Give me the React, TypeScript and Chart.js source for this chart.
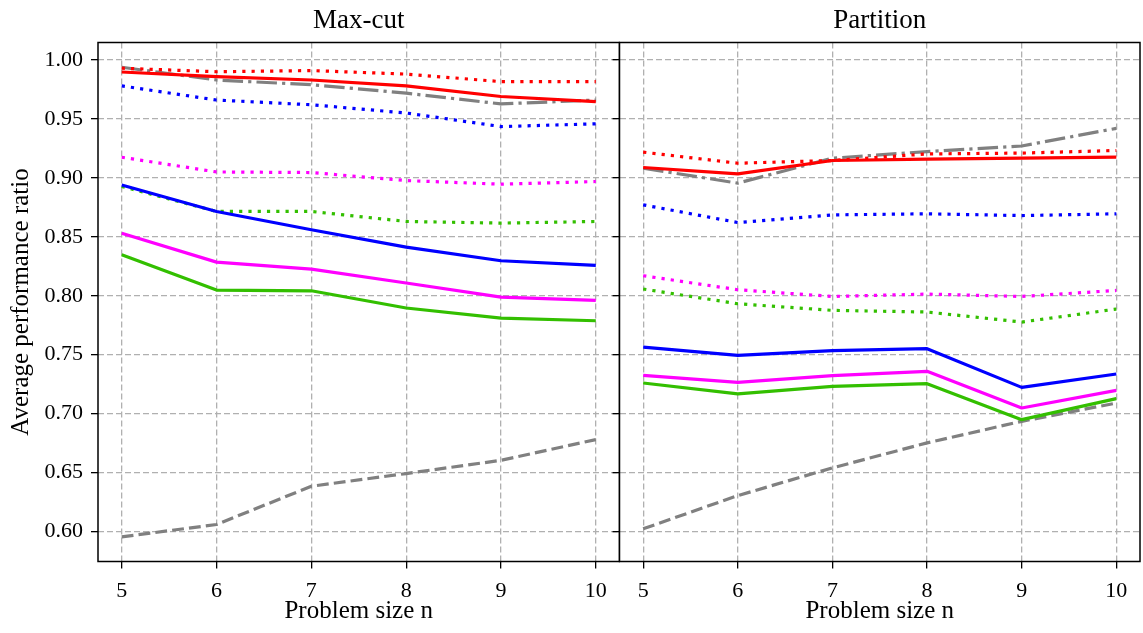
import React, { useEffect, useRef } from 'react';
import { Chart, registerables } from 'chart.js';

Chart.register(...registerables);

// ---------- data ----------
const problemSizes = [5, 6, 7, 8, 9, 10];
const yTickValues = [0.6, 0.65, 0.7, 0.75, 0.8, 0.85, 0.9, 0.95, 1.0];
const xLimits = [4.75, 10.25];
const yLimits = [0.5746, 1.0148];
const panelTitles = ['Max-cut', 'Partition'];
const xAxisTitle = 'Problem size n';
const yAxisTitle = 'Average performance ratio';

// Max-cut panel
const maxcutGrayDashed = [0.5955, 0.606, 0.6384, 0.6492, 0.6604, 0.678];
const maxcutGrayDashDot = [0.9938, 0.983, 0.979, 0.9718, 0.9627, 0.966];
const maxcutRedDotted = [0.993, 0.99, 0.991, 0.988, 0.9816, 0.9816];
const maxcutBlueDotted = [0.978, 0.966, 0.962, 0.955, 0.9435, 0.9458];
const maxcutMagentaDotted = [0.9175, 0.905, 0.9045, 0.8977, 0.8946, 0.8969];
const maxcutGreenDotted = [0.8927, 0.8715, 0.8715, 0.863, 0.8616, 0.863];
const maxcutRedSolid = [0.9898, 0.9859, 0.983, 0.978, 0.969, 0.9647];
const maxcutBlueSolid = [0.894, 0.8715, 0.856, 0.8413, 0.8297, 0.8257];
const maxcutMagentaSolid = [0.853, 0.8285, 0.8226, 0.8108, 0.7989, 0.796];
const maxcutGreenSolid = [0.8347, 0.8048, 0.8042, 0.7896, 0.7811, 0.7788];

// Partition panel
const partitionGrayDashed = [0.6023, 0.6305, 0.654, 0.6752, 0.6935, 0.709];
const partitionGrayDashDot = [0.9082, 0.8955, 0.9167, 0.9223, 0.927, 0.942];
const partitionRedDotted = [0.9218, 0.9124, 0.9147, 0.9203, 0.921, 0.9232];
const partitionBlueDotted = [0.8771, 0.8621, 0.8686, 0.8695, 0.868, 0.8695];
const partitionMagentaDotted = [0.817, 0.8051, 0.7994, 0.8014, 0.7994, 0.8045];
const partitionGreenDotted = [0.8057, 0.7932, 0.7876, 0.7862, 0.7777, 0.7887];
const partitionRedSolid = [0.9088, 0.9034, 0.9147, 0.9158, 0.9167, 0.9175];
const partitionBlueSolid = [0.7565, 0.7494, 0.7534, 0.7551, 0.7223, 0.7336];
const partitionMagentaSolid = [0.7325, 0.7265, 0.7322, 0.7359, 0.7048, 0.7197];
const partitionGreenSolid = [0.726, 0.7167, 0.7232, 0.7254, 0.6949, 0.7127];

// ---------- styles ----------
const FONT = '"Liberation Serif", "DejaVu Serif", serif';
const RED = '#ff0000';
const BLUE = '#0000ff';
const MAGENTA = '#ff00ff';
const GREEN = '#33bf00';
const GRAY = '#808080';
const LW = 3.2;
const DASHES: Record<string, number[]> = {
  solid: [],
  dotted: [LW, LW * 1.9],
  dashed: [LW * 3.7, LW * 1.6],
  dashdot: [LW * 6.4, LW * 1.6, LW, LW * 1.6],
};

type Series = { label: string; values: number[]; color: string; style: string };

const maxcutSeries: Series[] = [
  { label: 'gray dashed', values: maxcutGrayDashed, color: GRAY, style: 'dashed' },
  { label: 'gray dash-dot', values: maxcutGrayDashDot, color: GRAY, style: 'dashdot' },
  { label: 'green dotted', values: maxcutGreenDotted, color: GREEN, style: 'dotted' },
  { label: 'magenta dotted', values: maxcutMagentaDotted, color: MAGENTA, style: 'dotted' },
  { label: 'blue dotted', values: maxcutBlueDotted, color: BLUE, style: 'dotted' },
  { label: 'red dotted', values: maxcutRedDotted, color: RED, style: 'dotted' },
  { label: 'green solid', values: maxcutGreenSolid, color: GREEN, style: 'solid' },
  { label: 'magenta solid', values: maxcutMagentaSolid, color: MAGENTA, style: 'solid' },
  { label: 'blue solid', values: maxcutBlueSolid, color: BLUE, style: 'solid' },
  { label: 'red solid', values: maxcutRedSolid, color: RED, style: 'solid' },
];

const partitionSeries: Series[] = [
  { label: 'gray dashed', values: partitionGrayDashed, color: GRAY, style: 'dashed' },
  { label: 'gray dash-dot', values: partitionGrayDashDot, color: GRAY, style: 'dashdot' },
  { label: 'green dotted', values: partitionGreenDotted, color: GREEN, style: 'dotted' },
  { label: 'magenta dotted', values: partitionMagentaDotted, color: MAGENTA, style: 'dotted' },
  { label: 'blue dotted', values: partitionBlueDotted, color: BLUE, style: 'dotted' },
  { label: 'red dotted', values: partitionRedDotted, color: RED, style: 'dotted' },
  { label: 'green solid', values: partitionGreenSolid, color: GREEN, style: 'solid' },
  { label: 'magenta solid', values: partitionMagentaSolid, color: MAGENTA, style: 'solid' },
  { label: 'blue solid', values: partitionBlueSolid, color: BLUE, style: 'solid' },
  { label: 'red solid', values: partitionRedSolid, color: RED, style: 'solid' },
];

const framePlugin = {
  id: 'frame',
  afterDatasetsDraw(chart: any) {
    const { ctx, chartArea } = chart;
    const { left, top, right, bottom } = chartArea;
    ctx.save();
    ctx.setLineDash([]);
    ctx.strokeStyle = '#000';
    ctx.lineWidth = 1.5;
    ctx.strokeRect(left, top, right - left, bottom - top);
    ctx.restore();
  },
};

function makeConfig(title: string, series: Series[], leftPanel: boolean): any {
  const gridCommon = {
    color: '#b0b0b0',
    lineWidth: 1.3,
    tickColor: '#000',
    tickWidth: 1.3,
    tickLength: 7,
    tickBorderDash: [],
  };
  return {
    type: 'line',
    data: {
      datasets: series.map((s, i) => ({
        label: s.label,
        data: problemSizes.map((n, j) => ({ x: n, y: s.values[j] })),
        borderColor: s.color,
        backgroundColor: s.color,
        borderWidth: LW,
        borderDash: DASHES[s.style],
        borderCapStyle: 'butt',
        borderJoinStyle: 'round',
        pointRadius: 0,
        pointHoverRadius: 0,
        tension: 0,
        fill: false,
        order: series.length - i,
      })),
    },
    options: {
      responsive: false,
      animation: false,
      events: [],
      layout: {
        padding: leftPanel ? { left: 0, right: 0.5, top: 0, bottom: 0 } : { left: 0, right: 3, top: 0, bottom: 0 },
      },
      plugins: {
        legend: { display: false },
        tooltip: { enabled: false },
        title: {
          display: true,
          text: title,
          color: '#000',
          fullSize: false,
          font: { family: FONT, size: 27, weight: 'normal' },
          padding: { top: 4.5, bottom: 5.6 },
        },
      },
      scales: {
        x: {
          type: 'linear',
          min: xLimits[0],
          max: xLimits[1],
          afterBuildTicks: (scale: any) => {
            scale.ticks = problemSizes.map((v) => ({ value: v }));
          },
          afterFit: (scale: any) => {
            scale.height = 71.5;
            scale.paddingLeft = 0;
            scale.paddingRight = 0;
          },
          ticks: {
            color: '#000',
            font: { family: FONT, size: 22 },
            padding: 10,
            maxRotation: 0,
            autoSkip: false,
            callback: (v: any) => String(v),
          },
          grid: gridCommon,
          border: { display: false, dash: [6, 3] },
          title: {
            display: true,
            text: xAxisTitle,
            color: '#000',
            font: { family: FONT, size: 25 },
            padding: { top: 0, bottom: 7 },
          },
        },
        y: {
          type: 'linear',
          min: yLimits[0],
          max: yLimits[1],
          afterBuildTicks: (scale: any) => {
            scale.ticks = yTickValues.map((v) => ({ value: v }));
          },
          afterFit: (scale: any) => {
            scale.width = leftPanel ? 98 : 19.5;
            scale.paddingTop = 0;
            scale.paddingBottom = 0;
          },
          ticks: {
            display: leftPanel,
            color: '#000',
            font: { family: FONT, size: 22 },
            padding: 8,
            autoSkip: false,
            callback: (v: any) => Number(v).toFixed(2),
          },
          grid: gridCommon,
          border: { display: false, dash: [6, 3] },
          title: {
            display: leftPanel,
            text: yAxisTitle,
            color: '#000',
            font: { family: FONT, size: 25 },
            padding: { top: 6.5, bottom: 0 },
          },
        },
      },
    },
    plugins: [framePlugin],
  };
}

export default function App() {
  const leftRef = useRef<HTMLCanvasElement | null>(null);
  const rightRef = useRef<HTMLCanvasElement | null>(null);

  useEffect(() => {
    const charts: Chart[] = [];
    if (leftRef.current) {
      charts.push(new Chart(leftRef.current, makeConfig(panelTitles[0], maxcutSeries, true)));
    }
    if (rightRef.current) {
      charts.push(new Chart(rightRef.current, makeConfig(panelTitles[1], partitionSeries, false)));
    }
    return () => {
      charts.forEach((c) => c.destroy());
    };
  }, []);

  return (
    <div
      style={{
        position: 'fixed',
        left: 0,
        top: 0,
        width: 1143,
        height: 633,
        background: '#fff',
        overflow: 'hidden',
      }}
    >
      <canvas
        ref={leftRef}
        width={620}
        height={633}
        style={{ position: 'absolute', left: 0, top: 0, width: 620, height: 633 }}
      />
      <canvas
        ref={rightRef}
        width={543}
        height={633}
        style={{ position: 'absolute', left: 600, top: 0, width: 543, height: 633 }}
      />
    </div>
  );
}
